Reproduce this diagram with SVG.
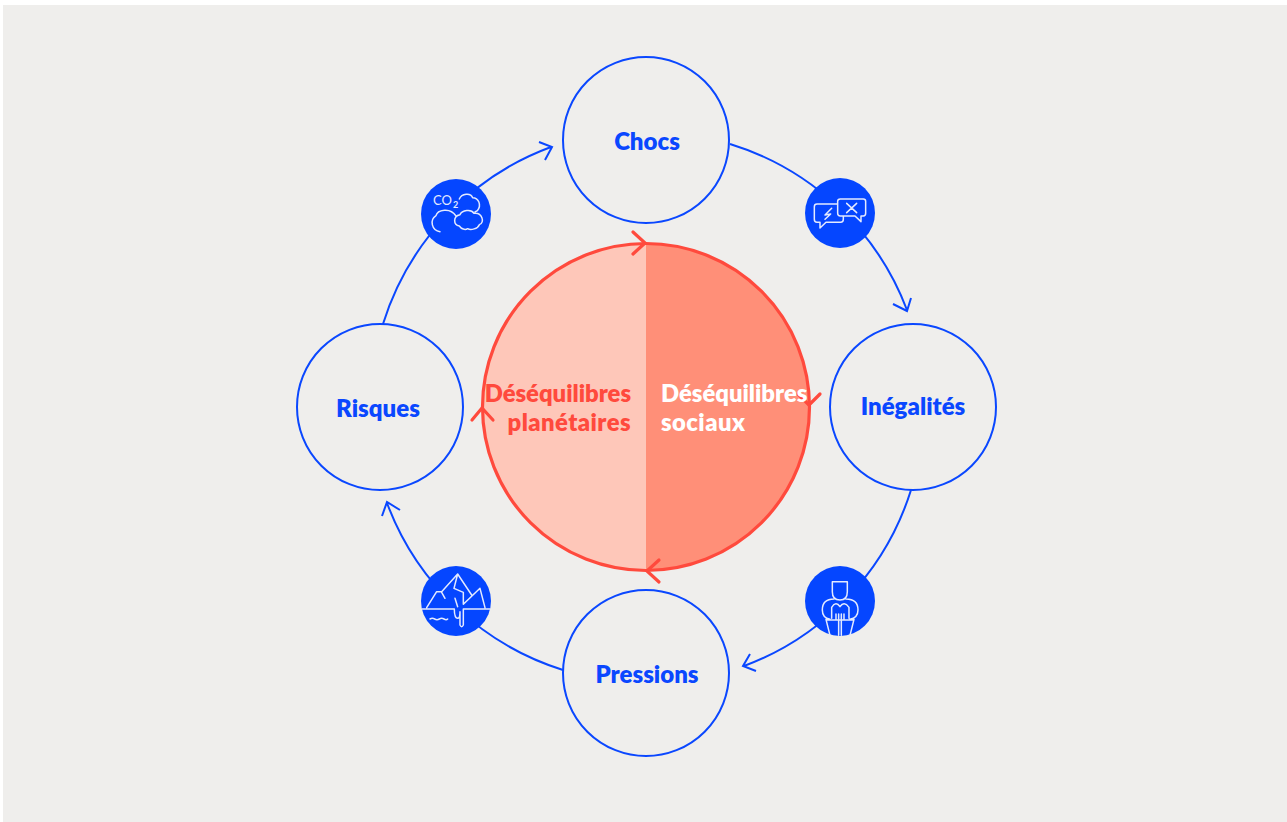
<svg xmlns="http://www.w3.org/2000/svg" width="1287" height="822" viewBox="0 0 1287 822">
<style>
.n{fill:none;stroke:#0a47ff;stroke-width:2}
.c{stroke:#0a47ff;stroke-width:2;fill:none}
.d{fill:#0546ff;stroke:none}
.i{fill:none;stroke:#e4eaff;stroke-width:4.5;stroke-linecap:round;stroke-linejoin:round}
.r{fill:none;stroke:#ff4a3d;stroke-width:3.2;stroke-linecap:round;stroke-linejoin:round}
text{font-family:"Lato","Liberation Sans",sans-serif;font-weight:800}
.l{fill:#0a47ff;font-size:24px;text-anchor:middle}
.t{font-size:23.800px}
.w{letter-spacing:.45px}
</style>
<rect width="1287" height="822" fill="#ffffff"/>
<rect x="3" y="5" width="1284" height="817" fill="#efeeec"/>
<g id="centre">
<path d="M646 243.500A163.500 163.500 0 0 0 646 570.500Z" fill="#fec7b9"/>
<path d="M646 243.500A163.500 163.500 0 0 1 646 570.500Z" fill="#ff8f78"/>
<circle class="r" cx="646" cy="407" r="163.500"/>
</g>
<g id="connectors">
<path class="c" d="M730 144A276 276 0 0 1 907 310M893 304L907 311L911 298"/>
<path class="c" d="M911 490A276 276 0 0 1 744 666M750 654L743 666L756 671"/>
<path class="c" d="M563 670A276 276 0 0 1 387 503M382 516L387 502L400 510"/>
<path class="c" d="M383 324A276 276 0 0 1 551 147M539 142L552 147L545 160"/>
<path class="r" d="M633 232L645 243L633 254"/>
<path class="r" d="M798 394L809 405L820 394"/>
<path class="r" d="M659 560L647 571L659 582"/>
<path class="r" d="M472 420L482 408L493 420"/>
</g>
<g id="chocs"><circle class="n" cx="646" cy="140" r="83"/><text class="l" x="647" y="150">Chocs</text></g>
<g id="inegalites"><circle class="n" cx="913" cy="407" r="83"/><text class="l" x="913" y="415">Inégalités</text></g>
<g id="pressions"><circle class="n" cx="646" cy="673" r="83"/><text class="l" x="647" y="683">Pressions</text></g>
<g id="risques"><circle class="n" cx="380" cy="407" r="83"/><text class="l" x="378" y="416.500">Risques</text></g>
<g id="desequilibres-planetaires"><text class="t" fill="#ff4a3d" text-anchor="end"><tspan x="631" y="401.500">Déséquilibres</tspan><tspan class="w" x="631" y="430.500">planétaires</tspan></text></g>
<g id="desequilibres-sociaux"><text class="t" fill="#ffffff"><tspan x="661" y="401.500">Déséquilibres</tspan><tspan class="w" x="661" y="430.500">sociaux</tspan></text></g>
<g id="icon-co2"><circle class="d" cx="456" cy="214" r="35"/>
<g transform="translate(400 130) scale(.3333)"><path class="i" d="M178 207C185 190 212 187 218 203C235 203 246 225 232 242L225 246M120 305C95 302 88 270 108 257C112 240 150 230 168 258M178 288C160 286 158 258 180 254C186 240 214 236 222 250C246 246 256 278 238 284C234 296 212 302 203 296C195 301 184 297 178 288Z"/></g>
<text x="433" y="205" font-size="13" fill="#e4eaff" style="font-weight:400">CO</text><text x="453" y="208" font-size="9" fill="#e4eaff" style="font-weight:700">2</text></g>
<g id="icon-bulles"><circle class="d" cx="840" cy="213" r="35"/>
<g transform="translate(780 150) scale(.3333)"><path class="i" d="M111 162H172Q190 162 190 172V208Q190 217 182 217H138L120 234V217H111Q103 217 103 208V170Q103 162 111 162Z"/><path d="M181 147H250Q257 147 257 154V190Q257 198 250 198H243V215L225 198H181Q173 198 173 190V154Q173 147 181 147Z" fill="#0546ff" stroke="#e4eaff" stroke-width="4.500" stroke-linejoin="round"/><path class="i" d="M155 175L135 195L152 192L135 208M200 160L230 188M230 160L200 188"/></g></g>
<g id="icon-lecteur"><circle class="d" cx="840" cy="601" r="35"/>
<g transform="translate(730 550) scale(.3333)"><path class="i" d="M307 95H352V125Q352 150 330 150Q307 150 307 125ZM312 147C290 147 277 155 277 180C277 195 285 205 300 208M348 147C370 147 384 155 384 180C384 195 375 205 360 208M305 205V172Q318 152 330 170Q342 152 357 172V205M290 210H372M288 208L300 256M372 208L360 256M318 192V210M342 192V210M326 192V256M334 192V256"/></g></g>
<g id="icon-glacier"><circle class="d" cx="456" cy="601" r="35"/>
<g transform="translate(375 495) scale(.3333)"><path class="i" d="M155 338L185 290H200L248 237L290 300M248 237L237 280L265 292V328L315 280L330 338M200 292L210 310M240 310L248 335M142 342H238Q238 370 248 370Q255 370 255 350V390Q260 400 265 390V342H345M165 372Q172 368 179 372T193 372T207 372T218 372"/></g></g>
</svg>
